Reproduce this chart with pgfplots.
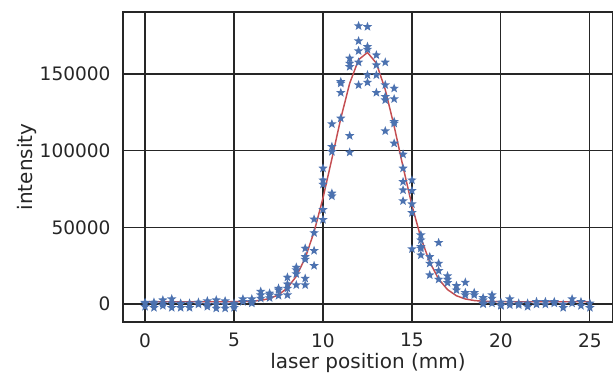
\documentclass[border=0pt]{standalone}
\usepackage{pgfplots}
\pgfplotsset{compat=1.18}
\usepackage{fontspec}
\setmainfont{DejaVu Sans}
\definecolor{sbblue}{HTML}{4C72B0}
\definecolor{sbred}{HTML}{C44E52}
\definecolor{txt}{HTML}{262626}
\pgfdeclareplotmark{fstar}{%
  \pgfpathmoveto{\pgfqpointpolar{90}{\pgfplotmarksize}}%
  \pgfpathlineto{\pgfqpointpolar{126}{0.42\pgfplotmarksize}}%
  \pgfpathlineto{\pgfqpointpolar{162}{\pgfplotmarksize}}%
  \pgfpathlineto{\pgfqpointpolar{198}{0.42\pgfplotmarksize}}%
  \pgfpathlineto{\pgfqpointpolar{234}{\pgfplotmarksize}}%
  \pgfpathlineto{\pgfqpointpolar{270}{0.42\pgfplotmarksize}}%
  \pgfpathlineto{\pgfqpointpolar{306}{\pgfplotmarksize}}%
  \pgfpathlineto{\pgfqpointpolar{342}{0.42\pgfplotmarksize}}%
  \pgfpathlineto{\pgfqpointpolar{18}{\pgfplotmarksize}}%
  \pgfpathlineto{\pgfqpointpolar{54}{0.42\pgfplotmarksize}}%
  \pgfpathclose
  \pgfusepathqfill}
\begin{document}
\begin{tikzpicture}
\begin{axis}[
  at={(92.25pt,39pt)}, anchor=south west,
  scale only axis, width=367.5pt, height=232.5pt,
  xmin=-1.24, xmax=26.3, ymin=-11700, ymax=190400,
  xtick={0,5,10,15,20,25},
  ytick={0,50000,100000,150000},
  scaled y ticks=false,
  /pgf/number format/fixed,
  /pgf/number format/1000 sep={},
  /pgf/number format/assume math mode=true,
  major tick length=0pt,
  grid=major,
  major grid style={draw=txt, line width=0.85pt},
  axis line style={draw=txt, line width=1pt},
  tick label style={font=\fontsize{13.9}{16}\selectfont, text=txt, inner sep=0pt},
  xticklabel style={anchor=north, yshift=-8.25pt},
  yticklabel style={anchor=east, xshift=-9.2pt},
  xlabel={laser position (mm)},
  ylabel={intensity},
  label style={font=\fontsize{15}{18}\selectfont, text=txt, inner sep=0pt},
  xlabel style={at={(axis description cs:0.5,-0.1516)}, anchor=base},
  ylabel style={at={(axis description cs:-0.1837,0.5)}, anchor=base, rotate=0},
  clip=false,
]
\addplot[only marks, mark=fstar, mark size=3.7pt, color=sbblue] coordinates {
(0,500) (0,-1700) (0,1000)
(0.5,1100) (0.5,-2400) (0.5,0)
(1,2600) (1,500) (1,-1100)
(1.5,3300) (1.5,500) (1.5,-2400)
(2,500) (2,-2400) (2,0)
(2.5,500) (2.5,-2400)
(3,1100) (3,-200)
(3.5,2000) (3.5,-200) (3.5,-1700)
(4,2600) (4,-200) (4,-2800)
(4.5,2000) (4.5,-200) (4.5,-2800)
(5,500) (5,-600) (5,-2400)
(5.5,3300) (5.5,1500)
(6,3300) (6,1500) (6,500)
(6.5,8200) (6.5,5900) (6.5,3700)
(7,7000) (7,5900) (7,4000)
(7.5,10200) (7.5,9100) (7.5,5500)
(8,17400) (8,13000) (8,10200) (8,5900)
(8.5,23900) (8.5,22200) (8.5,19600) (8.5,12400)
(9,36300) (9,30800) (9,29100) (9,16700) (9,12400)
(9.5,55300) (9.5,46400) (9.5,34800) (9.5,25000)
(10,88500) (10,80800) (10,78000) (10,61500) (10,55000)
(10.5,117400) (10.5,102600) (10.5,99300) (10.5,72200) (10.5,70400)
(11,144900) (11,143900) (11,137800) (11,121100)
(11.5,160200) (11.5,156900) (11.5,154700) (11.5,109700) (11.5,98900)
(12,181300) (12,171500) (12,165000) (12,157600) (12,142800)
(12.5,180800) (12.5,167800) (12.5,166000) (12.5,149300) (12.5,144500)
(13,162300) (13,155800) (13,149300) (13,137800)
(13.5,157600) (13.5,142800) (13.5,135200) (13.5,133000) (13.5,112800)
(14,140600) (14,133700) (14,118900) (14,117800) (14,104800)
(14.5,97600) (14.5,88500) (14.5,79700) (14.5,74300) (14.5,67200)
(15,80800) (15,73900) (15,65200) (15,59500) (15,35900)
(15.5,45000) (15.5,41700) (15.5,37400) (15.5,36300) (15.5,31900)
(16,30800) (16,26500) (16,18900)
(16.5,40000) (16.5,26500) (16.5,21700) (16.5,16100)
(17,18300) (17,16100) (17,13900)
(17.5,11900) (17.5,9100)
(18,14100) (18,7400) (18,5900)
(18.5,7400) (18.5,5900)
(19,4100) (19,2600) (19,500) (19,0)
(19.5,5900) (19.5,3700) (19.5,500)
(20,1100) (20,-650) (20,-1100)
(20.5,3300) (20.5,1100) (20.5,-650)
(21,500) (21,-600)
(21.5,500) (21.5,-1700)
(22,1500) (22,-200)
(22.5,1500) (22.5,-200)
(23,1500) (23,500)
(23.5,-200) (23.5,-2400)
(24,3300) (24,500)
(24.5,1500) (24.5,-1100)
(25,500) (25,-2400)
};
\addplot[sbred, line width=1.1pt, mark=none] coordinates {
(0,1500) (0.5,1500) (1,1500) (1.5,1500) (2,1500) (2.5,1500) (3,1500)
(3.5,1500) (4,1500) (4.5,1500) (5,1520) (5.5,1640) (6,1870) (6.5,2400)
(7,3600) (7.5,6000) (8,10500) (8.5,18100) (9,30000) (9.5,47100)
(10,69100) (10.5,94700) (11,121000) (11.5,143900) (12,159300)
(12.5,164000) (13,157000) (13.5,139800) (14,115900) (14.5,89400)
(15,64300) (15.5,43200) (16,27300) (16.5,16300) (17,9400) (17.5,5400)
(18,3300) (18.5,2300) (19,1800) (19.5,1600) (20,1520) (20.5,1500)
(21,1500) (21.5,1500) (22,1500) (22.5,1500) (23,1500) (23.5,1500)
(24,1500) (24.5,1500) (25,1500)
};
\end{axis}
\pgfresetboundingbox
\path (0,0) rectangle (459.75pt,280.5pt);
\end{tikzpicture}
\end{document}
